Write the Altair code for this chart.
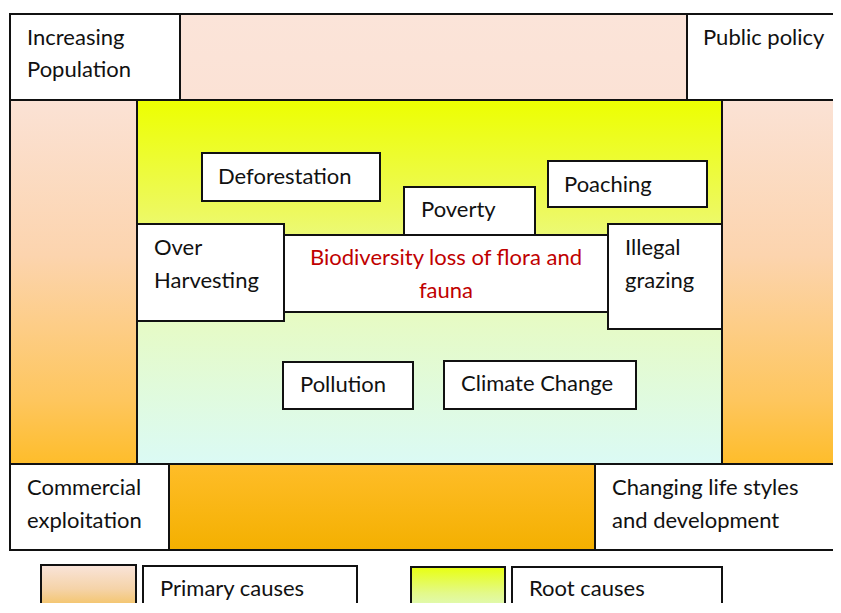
import altair as alt
import pandas as pd

# ---- white boxes (drawing order matters) ----
box_names = ["Increasing Population", "Public policy", "Commercial exploitation",
             "Changing life styles", "Deforestation", "Poverty", "Poaching",
             "Over Harvesting", "Biodiversity", "Illegal grazing", "Pollution",
             "Climate Change", "Primary causes label", "Root causes label"]
box_x0 = [10, 687, 10, 595, 202, 404, 548, 137, 284, 608, 283, 444, 143, 512]
box_x1 = [180, 850, 169, 850, 380, 535, 707, 284, 608, 722, 413, 636, 357, 722]
box_y0 = [14, 14, 464, 464, 153, 187, 161, 224, 235, 224, 362, 361, 566, 567]
box_y1 = [100, 100, 550, 550, 201, 240, 207, 321, 312, 329, 409, 409, 625, 625]

# ---- coloured regions ----
frame_box = dict(x0=[10], x1=[850], y0=[14], y1=[550])
center_box = dict(x0=[137], x1=[722], y0=[100], y1=[464])
legend_primary_box = dict(x0=[41], x1=[136], y0=[565], y1=[625])
legend_root_box = dict(x0=[411], x1=[505], y0=[567], y1=[625])

primary_colors = ["#FBE4D9", "#FBE2D5", "#FCD4AE", "#FEC65E", "#FEBC26", "#F4B000"]
primary_offsets = [0.0, 0.16, 0.45, 0.72, 0.85, 1.0]
root_colors = ["#EDFF00", "#EDF95C", "#E6FBC4", "#DBFAF5"]
root_offsets = [0.0, 0.3, 0.6, 1.0]
legend_primary_colors = ["#F9E4DA", "#F5D3A8", "#F2B320"]
legend_primary_offsets = [0.0, 0.4, 1.0]
legend_root_colors = ["#E8FF10", "#E3F98A", "#DCFAF2"]
legend_root_offsets = [0.0, 0.45, 1.0]

# ---- text ----
text_lines = ["Increasing", "Population", "Public policy", "Deforestation", "Poverty",
              "Poaching", "Over", "Harvesting", "Illegal", "grazing", "Pollution",
              "Climate Change", "Commercial", "exploitation", "Changing life styles",
              "and development", "Primary causes", "Root causes"]
text_x = [27, 27, 703, 218, 421, 564, 154, 154, 625, 625, 300, 461, 27, 27, 612, 612, 160, 529]
text_y = [45, 77, 45, 184, 217, 192, 255, 288, 255, 288, 392, 391, 495, 528, 495, 528, 596, 596]

center_lines = ["Biodiversity loss of flora and", "fauna"]
center_x = [446, 446]
center_y = [265, 298]

# visible page region: x 8..833, y 8..603 (page coordinates)
xs = alt.Scale(domain=[8, 833], range=[0, 825])
ys = alt.Scale(domain=[8, 603], range=[0, 595])


def grad(colors, offsets):
    return alt.LinearGradient(
        gradient="linear",
        stops=[alt.GradientStop(color=c, offset=o) for c, o in zip(colors, offsets)],
        x1=0, x2=0, y1=0, y2=1,
    )


def rect_layer(d, fill):
    df = pd.DataFrame(d)
    return alt.Chart(df).mark_rect(fill=fill, stroke="#111111", strokeWidth=2, clip=True).encode(
        x=alt.X("x0:Q", scale=xs, axis=None),
        x2="x1:Q",
        y=alt.Y("y0:Q", scale=ys, axis=None),
        y2="y1:Q",
    )


frame = rect_layer(frame_box, grad(primary_colors, primary_offsets))
center = rect_layer(center_box, grad(root_colors, root_offsets))
boxes = rect_layer(dict(name=box_names, x0=box_x0, x1=box_x1, y0=box_y0, y1=box_y1), "#FFFFFF")
leg1 = rect_layer(legend_primary_box, grad(legend_primary_colors, legend_primary_offsets))
leg2 = rect_layer(legend_root_box, grad(legend_root_colors, legend_root_offsets))

texts = alt.Chart(pd.DataFrame(dict(t=text_lines, x=text_x, y=text_y))).mark_text(
    align="left", baseline="alphabetic", font="Lato", fontSize=22, color="#111111", clip=True
).encode(
    x=alt.X("x:Q", scale=xs, axis=None),
    y=alt.Y("y:Q", scale=ys, axis=None),
    text="t:N",
)

ctexts = alt.Chart(pd.DataFrame(dict(t=center_lines, x=center_x, y=center_y))).mark_text(
    align="center", baseline="alphabetic", font="Lato", fontSize=22, color="#C00000"
).encode(
    x=alt.X("x:Q", scale=xs, axis=None),
    y=alt.Y("y:Q", scale=ys, axis=None),
    text="t:N",
)

chart = alt.layer(frame, center, boxes, leg1, leg2, texts, ctexts).properties(
    width=825, height=595, autosize=alt.AutoSizeParams(type="none"), padding=0,
    background="#FFFFFF",
).configure_view(stroke=None)

chart.save("out.html", embed_options={"renderer": "svg", "actions": False})
